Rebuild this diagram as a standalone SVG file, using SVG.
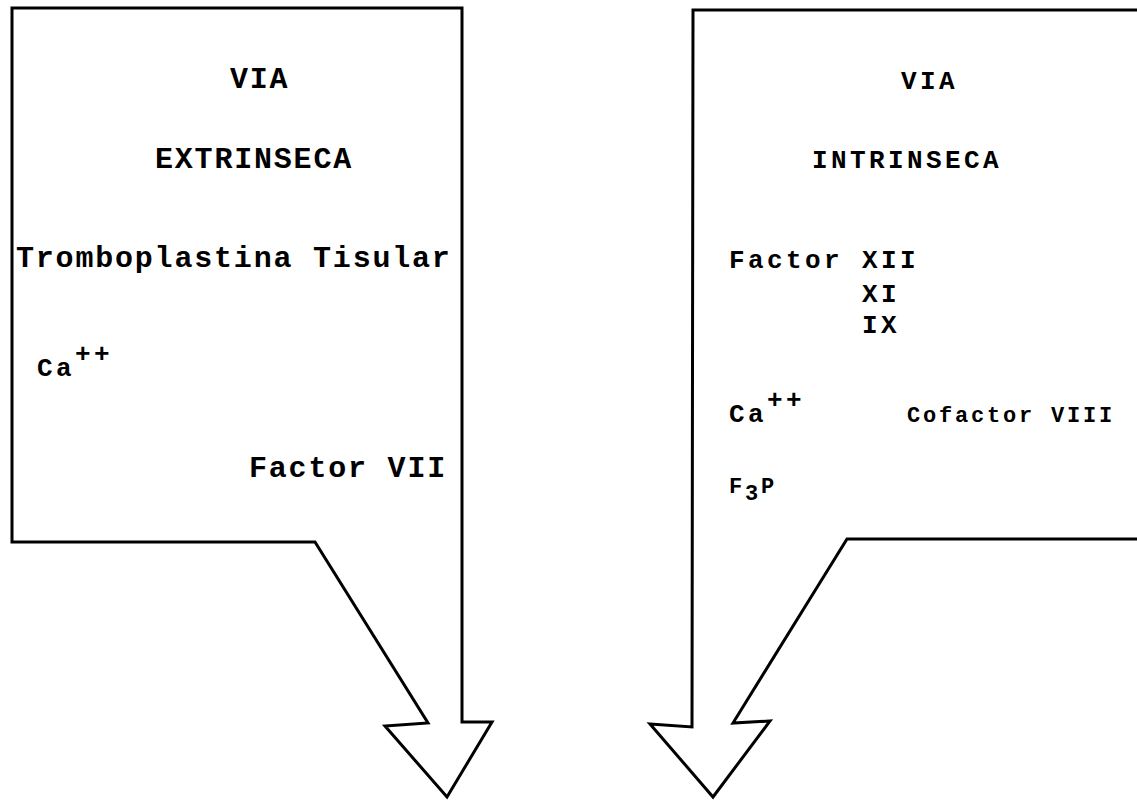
<svg xmlns="http://www.w3.org/2000/svg" width="1137" height="801" viewBox="0 0 1137 801">
<style>
.shape{fill:none;stroke:#000;stroke-width:3;stroke-linejoin:miter}
text{font-family:"Liberation Mono","Courier New",monospace;fill:#000;font-weight:bold}
.L{font-size:30px;letter-spacing:1.8px}
.R{font-size:26px;letter-spacing:3.4px}
.S{font-size:22px;letter-spacing:2.8px}
</style>
<rect width="1137" height="801" fill="#fff"/>
<g id="via-extrinseca">
<path class="shape" d="M12,8 L462,8 L462,722 L492,722 L447,797 L385,726 L428,723 L315,542 L12,542 Z"/>
<text class="L" x="230" y="88">VIA</text>
<text class="L" x="155" y="168">EXTRINSECA</text>
<text class="L" x="16" y="267">Tromboplastina Tisular</text>
<text class="R" x="37" y="376">Ca<tspan dy="-14">++</tspan></text>
<text class="L" x="249" y="477">Factor VII</text>
</g>
<g id="via-intrinseca">
<path class="shape" d="M1137,10 L693,10 L692,727 L650,724 L713,797 L770,721 L733,723 L847,539 L1137,539"/>
<text class="R" x="901" y="89">VIA</text>
<text class="R" x="812" y="168">INTRINSECA</text>
<text class="R" x="729" y="268">Factor XII</text>
<text class="R" x="862" y="302">XI</text>
<text class="R" x="862" y="333">IX</text>
<text class="R" x="729" y="422">Ca<tspan dy="-14">++</tspan></text>
<text class="S" x="907" y="422">Cofactor VIII</text>
<text class="S" x="729" y="493">F<tspan dy="7">3</tspan><tspan dy="-7">P</tspan></text>
</g>
<g id="connectors"></g>
</svg>
